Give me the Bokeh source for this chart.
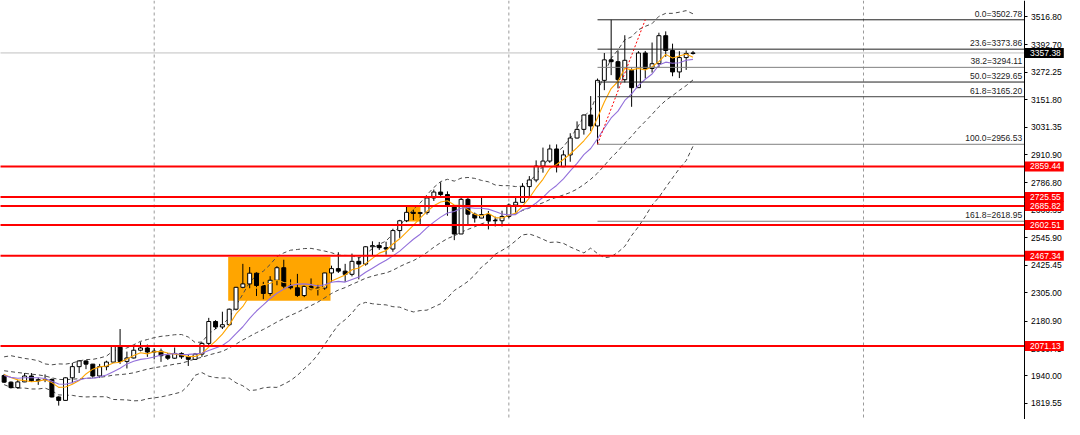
import numpy as np
from bokeh.plotting import figure
from bokeh.models import Span, Label, FixedTicker, PrintfTickFormatter, ColumnDataSource, Range1d
from bokeh.embed import file_html
from bokeh.resources import INLINE

# ---------------- data (weekly XAUUSD bars) ----------------
first_bar = -22          # bar 0 = first weekly bar of 2024
bar_open = [1942, 1913, 1889, 1914, 1940, 1919, 1924, 1925, 1848, 1833, 1932, 1981, 2006, 1992, 1940, 1981, 2001, 2072, 2004, 2019, 2053, 2063,
            2045, 2049, 2029, 2018, 2039, 2024, 2013, 2036, 2083, 2179, 2155, 2165, 2233, 2329, 2344, 2391, 2337, 2302, 2360, 2415, 2334, 2327,
            2293, 2333, 2322, 2326, 2392, 2411, 2400, 2386, 2443, 2431, 2507, 2512, 2503, 2497, 2578, 2621, 2658, 2653, 2657, 2721, 2747, 2736,
            2685, 2563, 2715, 2650, 2633, 2648, 2622, 2621,
            2640, 2690, 2702, 2771, 2800, 2861, 2883, 2936, 2858, 2910, 2984, 3022, 3085, 3037, 3237, 3327, 3319, 3240, 3280, 3205, 3357, 3289,
            3310, 3433, 3368, 3274, 3337, 3355]
bar_high = [1949, 1916, 1922, 1953, 1953, 1933, 1947, 1929, 1851, 1934, 1997, 2009, 2009, 1993, 1993, 2007, 2075, 2146, 2047, 2070, 2088, 2078,
            2062, 2060, 2041, 2065, 2044, 2032, 2041, 2088, 2195, 2185, 2222, 2236, 2331, 2432, 2418, 2395, 2353, 2378, 2422, 2450, 2364, 2388,
            2338, 2368, 2340, 2393, 2424, 2483, 2432, 2477, 2462, 2509, 2531, 2528, 2529, 2586, 2625, 2685, 2670, 2660, 2722, 2758, 2790, 2750,
            2690, 2721, 2721, 2657, 2726, 2664, 2639, 2665,
            2697, 2726, 2786, 2817, 2886, 2942, 2955, 2956, 2930, 3005, 3057, 3087, 3168, 3245, 3357, 3502.78, 3368, 3435, 3290, 3365, 3366, 3403,
            3446, 3452, 3398, 3365, 3368, 3366]
bar_low = [1910, 1885, 1884, 1913, 1914, 1901, 1913, 1846, 1810, 1832, 1908, 1953, 1970, 1932, 1931, 1965, 1999, 1993, 1973, 2017, 2048, 2024,
           2013, 2002, 2010, 2016, 2015, 1984, 2011, 2024, 2076, 2146, 2146, 2159, 2228, 2325, 2325, 2291, 2277, 2292, 2338, 2325, 2320, 2287,
           2286, 2316, 2293, 2318, 2352, 2392, 2353, 2377, 2364, 2424, 2470, 2493, 2472, 2485, 2546, 2615, 2624, 2603, 2648, 2708, 2722, 2643,
           2536, 2563, 2605, 2613, 2632, 2583, 2596, 2596,
           2632, 2656, 2700, 2730, 2790, 2832, 2875, 2833, 2857, 2880, 2982, 2999, 3015, 2956.53, 3194, 3260, 3202, 3228, 3121, 3204, 3245, 3271,
           3294, 3340, 3255, 3247, 3283, 3350]
bar_close = [1913, 1889, 1914, 1940, 1919, 1924, 1925, 1848, 1833, 1932, 1981, 2006, 1992, 1940, 1981, 2001, 2072, 2004, 2019, 2053, 2063, 2045,
             2049, 2029, 2018, 2039, 2024, 2013, 2036, 2083, 2179, 2155, 2165, 2233, 2329, 2344, 2391, 2337, 2302, 2360, 2415, 2334, 2327, 2293,
             2333, 2322, 2326, 2392, 2411, 2400, 2386, 2443, 2431, 2507, 2512, 2503, 2497, 2578, 2621, 2658, 2653, 2657, 2721, 2747, 2736, 2685,
             2563, 2715, 2650, 2633, 2648, 2622, 2621, 2640,
             2690, 2702, 2771, 2800, 2861, 2883, 2936, 2858, 2910, 2984, 3022, 3085, 3037, 3237, 3327, 3319, 3240, 3325, 3205, 3357, 3289, 3310,
             3433, 3368, 3274, 3337, 3355, 3357.38]

# indicator lines
ma_orange = [1946, 1933, 1923, 1920, 1915, 1917, 1924, 1911, 1890, 1892, 1904, 1920, 1949, 1970, 1980, 1984, 1997, 2000, 2015, 2030, 2042, 2037,
             2046, 2048, 2041, 2036, 2032, 2025, 2026, 2039, 2067, 2093, 2124, 2163, 2212, 2245, 2292, 2327, 2341, 2347, 2361, 2350, 2348, 2346,
             2340, 2322, 2320, 2333, 2357, 2370, 2383, 2406, 2414, 2433, 2456, 2479, 2490, 2519, 2542, 2571, 2601, 2633, 2662, 2687, 2703, 2709,
             2690, 2689, 2670, 2649, 2642, 2654, 2635, 2633,
             2644, 2655, 2685, 2721, 2765, 2803, 2850, 2868, 2890, 2914, 2942, 2972, 3008, 3073, 3142, 3201, 3232, 3290, 3283, 3289, 3283, 3297,
             3319, 3351, 3335, 3344, 3353, 3338]
ma_purple = [1942, 1934, 1930, 1932, 1932, 1932, 1929, 1917, 1905, 1904, 1911, 1922, 1930, 1930, 1936, 1944, 1959, 1974, 1993, 2005, 2013, 2017,
             2023, 2032, 2035, 2039, 2034, 2035, 2037, 2040, 2052, 2063, 2074, 2095, 2126, 2156, 2193, 2225, 2252, 2280, 2303, 2321, 2337, 2343,
             2344, 2341, 2335, 2340, 2351, 2355, 2352, 2363, 2374, 2395, 2413, 2431, 2448, 2467, 2488, 2514, 2540, 2562, 2591, 2615, 2637, 2655,
             2662, 2676, 2679, 2676, 2676, 2672, 2662, 2651,
             2647, 2648, 2669, 2678, 2699, 2724, 2753, 2776, 2805, 2840, 2873, 2911, 2938, 2981, 3028, 3072, 3102, 3149, 3178, 3215, 3242, 3265,
             3304, 3317, 3312, 3314, 3325, 3329]
band_mid = [1963, 1959, 1955, 1952, 1948, 1945, 1940, 1932, 1925, 1924, 1926, 1928, 1930, 1931, 1934, 1938, 1944, 1946, 1949, 1954, 1962, 1970,
            1976, 1981, 1986, 1992, 1996, 2005, 2015, 2022, 2032, 2040, 2048, 2063, 2080, 2098, 2114, 2130, 2144, 2160, 2177, 2192, 2206, 2219,
            2235, 2249, 2264, 2283, 2302, 2317, 2328, 2342, 2355, 2369, 2378, 2386, 2392, 2404, 2420, 2434, 2446, 2463, 2482, 2505, 2525, 2543,
            2555, 2571, 2583, 2595, 2608, 2617, 2626, 2633,
            2642, 2652, 2666, 2677, 2689, 2700, 2714, 2724, 2734, 2745, 2760, 2780, 2803, 2830, 2863, 2898, 2927, 2962, 2992, 3027, 3057, 3088,
            3121, 3149, 3170, 3193, 3214, 3239]
band_upper = [2024, 2029, 2023, 2017, 2013, 2007, 1993, 1989, 1993, 1992, 1997, 2006, 2012, 2013, 2019, 2027, 2051, 2056, 2063, 2077, 2092, 2100,
              2108, 2114, 2117, 2121, 2122, 2111, 2087, 2089, 2125, 2147, 2165, 2195, 2250, 2299, 2352, 2381, 2400, 2429, 2464, 2480, 2492, 2495,
              2499, 2500, 2494, 2488, 2481, 2470, 2469, 2468, 2457, 2475, 2499, 2518, 2532, 2564, 2598, 2638, 2671, 2699, 2735, 2767, 2793, 2803,
              2795, 2808, 2811, 2807, 2798, 2792, 2778, 2775,
              2775, 2771, 2773, 2791, 2825, 2860, 2902, 2920, 2946, 2984, 3027, 3080, 3105, 3183, 3267, 3333, 3371, 3415, 3428, 3459, 3474, 3486,
              3518, 3531, 3531, 3536, 3543, 3529]
band_lower = [1902, 1890, 1887, 1887, 1883, 1883, 1887, 1875, 1857, 1856, 1855, 1850, 1848, 1849, 1849, 1849, 1837, 1836, 1835, 1831, 1832, 1840,
              1844, 1848, 1855, 1862, 1870, 1899, 1943, 1955, 1939, 1933, 1931, 1931, 1910, 1897, 1876, 1879, 1888, 1891, 1890, 1904, 1920, 1943,
              1971, 1998, 2034, 2078, 2123, 2164, 2187, 2216, 2253, 2263, 2257, 2254, 2252, 2244, 2242, 2230, 2221, 2227, 2229, 2243, 2257, 2283,
              2315, 2334, 2355, 2383, 2418, 2442, 2474, 2491,
              2509, 2533, 2559, 2563, 2553, 2540, 2526, 2528, 2522, 2506, 2493, 2480, 2501, 2477, 2459, 2463, 2483, 2509, 2556, 2595, 2640, 2690,
              2724, 2767, 2809, 2850, 2885, 2948]

year_start_bars = [0, 52, 104]
red_levels = [2859.44, 2725.55, 2685.82, 2602.51, 2467.34, 2071.13]
fib_levels = [0.0, 23.6, 38.2, 50.0, 61.8, 100.0, 161.8]
fib_prices = [3502.78, 3373.86, 3294.11, 3229.65, 3165.20, 2956.53, 2618.95]
fib_colors = ["#202020", "#202020", "#808080", "#202020", "#404040", "#808080", "#808080"]
fib_anchor_bars = [65, 72]
fib_anchor_prices = [2956.53, 3502.78]
zone_left = [10.85, 36.9]
zone_right = [25.85, 39.05]
zone_bottom = [2270, 2618]
zone_top = [2462, 2686]
last_price = 3357.38
axis_ticks = [3516.80, 3392.70, 3272.25, 3151.80, 3031.35, 2910.90, 2786.80, 2666.35,
              2545.90, 2425.45, 2305.00, 2180.90, 2060.45, 1940.00, 1819.55]

n = len(bar_close)
for arr in (bar_open, bar_high, bar_low, ma_orange, ma_purple, band_mid, band_upper, band_lower):
    assert len(arr) == n, len(arr)

# ---------------- layout (reference pixel grid -> bar index) ----------------
W, H = 1064, 419
PX_PER_BAR, BAR0_PX = 6.923, 156.0
def bx(px):                      # reference pixel column -> bar coordinate
    return (px - BAR0_PX) / PX_PER_BAR
X0, X1 = bx(0), bx(1080)
AXIS_X = bx(1039)                # price axis position
Y0, Y1 = 1749.1, 3587.4
FONT = "Liberation Sans"

bars = list(range(first_bar, first_bar + n))
bull = [c >= o for o, c in zip(bar_open, bar_close)]
src = ColumnDataSource(dict(
    x=bars, o=bar_open, h=bar_high, l=bar_low, c=bar_close,
    top=[max(o, c) for o, c in zip(bar_open, bar_close)],
    bot=[min(o, c) for o, c in zip(bar_open, bar_close)],
    fill=["white" if b else "black" for b in bull],
))

p = figure(width=W, height=H, x_range=Range1d(X0, X1), y_range=Range1d(Y0, Y1),
           output_backend="svg", toolbar_location=None, x_axis_location=None, y_axis_location="right",
           min_border=0, background_fill_color="white", border_fill_color="white")
p.outline_line_color = None
p.grid.visible = False

ax = p.yaxis[0]
ax.fixed_location = AXIS_X
ax.ticker = FixedTicker(ticks=axis_ticks)
ax.formatter = PrintfTickFormatter(format="%.2f")
ax.major_label_text_font = FONT
ax.major_label_text_font_size = "8.5px"
ax.major_label_text_color = "black"
ax.major_tick_out = 3
ax.major_tick_in = 0
ax.minor_tick_out = 0
ax.minor_tick_in = 0
ax.major_label_standoff = 4
ax.axis_line_color = "black"
ax.major_tick_line_color = "black"

# zones
p.quad(left=zone_left, right=zone_right, bottom=zone_bottom, top=zone_top,
       fill_color="#FFA500", line_color=None)

# year separators
for b in year_start_bars:
    p.add_layout(Span(location=b, dimension="height", line_color="#9a9a9a",
                      line_dash="3 3", line_width=1, level="underlay"))

# current price line
p.segment(x0=X0 - 1, x1=AXIS_X, y0=last_price, y1=last_price, line_color="#c0c0c0", line_width=1)

# bollinger bands
for band in (band_upper, band_mid, band_lower):
    p.line(bars, band, line_color="#4a4a4a", line_width=1, line_dash="4 3")

# candles
p.segment(x0="x", y0="h", x1="x", y1="l", source=src, line_color="black", line_width=1)
p.vbar(x="x", width=0.58, top="top", bottom="bot", source=src,
       fill_color="fill", line_color="black", line_width=1)

# moving averages
p.line(bars, ma_orange, line_color="#FFA500", line_width=1.1)
p.line(bars, ma_purple, line_color="#9370DB", line_width=1.1)

# fibonacci
p.segment(x0=[fib_anchor_bars[0]] * len(fib_prices), x1=[AXIS_X] * len(fib_prices),
          y0=fib_prices, y1=fib_prices, line_color=fib_colors, line_width=1)
p.line(fib_anchor_bars, fib_anchor_prices, line_color="red", line_width=1, line_dash="2 2")
for lvl, pr in zip(fib_levels, fib_prices):
    p.add_layout(Label(x=bx(1037), y=pr, x_units="data", y_units="data",
                       text=f"{lvl:.1f}={pr:.2f}", text_align="right", text_baseline="bottom",
                       y_offset=1, text_font=FONT, text_font_size="8.5px", text_color="#222222"))

# red horizontal levels
p.segment(x0=[X0 - 1] * len(red_levels), x1=[AXIS_X] * len(red_levels),
          y0=red_levels, y1=red_levels, line_color="#ff0000", line_width=2)

# price tags on the axis
tag_y = red_levels + [last_price]
tag_fill = ["#ff0000"] * len(red_levels) + ["black"]
tag_text = [f"{v:.2f}" for v in tag_y]
tag_x = [(bx(1040) + bx(1079)) / 2] * len(tag_y)
p.rect(x=tag_x, y=tag_y, width=39, height=10, width_units="screen", height_units="screen",
       fill_color=tag_fill, line_color=None, level="overlay")
p.text(x=[AXIS_X] * len(tag_y), y=tag_y, text=tag_text, x_offset=6, text_align="left",
       text_baseline="middle", text_font={"value": FONT}, text_font_size="8.5px",
       text_color="white", level="overlay")

open("out.html", "w").write(file_html(p, INLINE))
